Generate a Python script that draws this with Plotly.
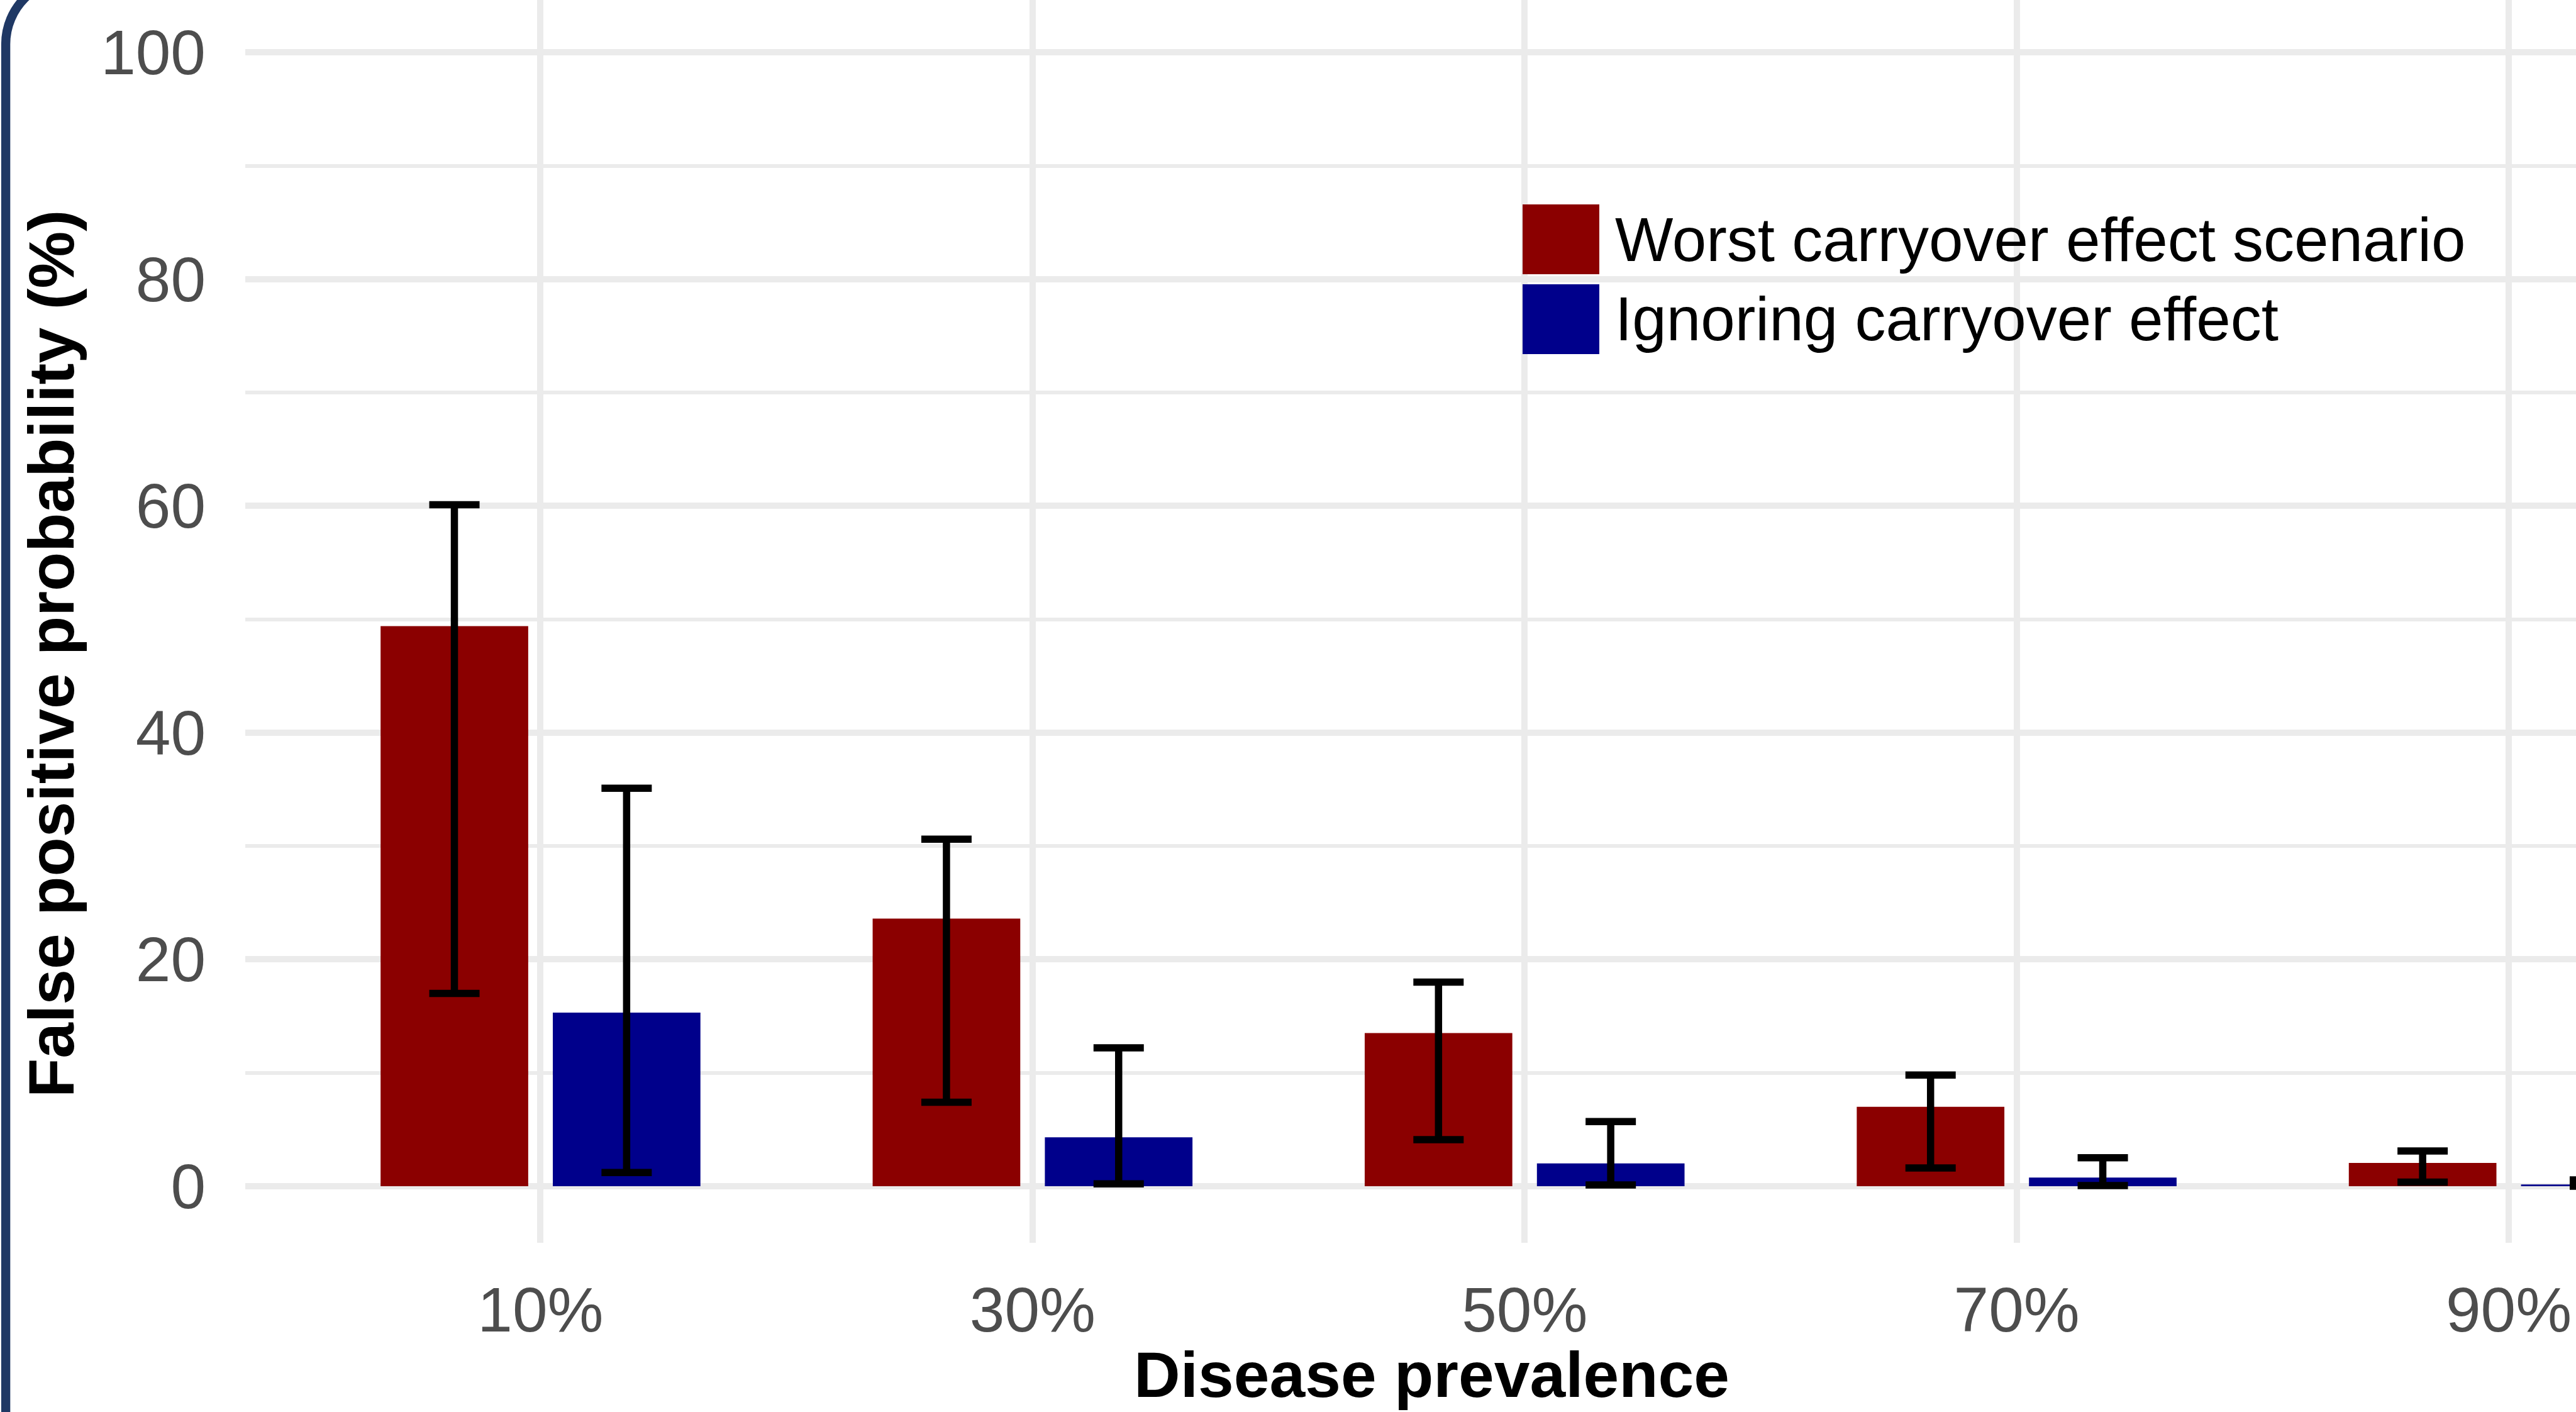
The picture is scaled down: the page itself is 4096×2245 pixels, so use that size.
import plotly.graph_objects as go

# ---------------- data ----------------
categories = ["10%", "30%", "50%", "70%", "90%"]
series_names = ["Worst carryover effect scenario", "Ignoring carryover effect"]

worst_mean = [49.4, 23.6, 13.5, 7.0, 2.05]
worst_low = [17.0, 7.4, 4.1, 1.6, 0.35]
worst_high = [60.1, 30.6, 18.0, 9.8, 3.1]

ignore_mean = [15.3, 4.3, 2.0, 0.75, 0.15]
ignore_low = [1.2, 0.2, 0.1, 0.05, 0.0]
ignore_high = [35.1, 12.2, 5.7, 2.5, 0.55]

y_ticks = [0, 20, 40, 60, 80, 100]

colors = ["#8B0000", "#00008B"]

# ---------------- layout constants (output pixels) ----------------
W, H = 4096, 2245
ML, MR, MT, MB = 390, 0, 0, 269
PW, PH = W - ML - MR, H - MT - MB
FONT = "Liberation Sans, Arial, Helvetica, sans-serif"


def px(xp):
    return (xp - ML) / PW


def py(yp):
    return (MT + PH - yp) / PH


def err_plus(m, h):
    return [b - a for a, b in zip(m, h)]


def err_minus(m, l):
    return [a - b for a, b in zip(m, l)]


fig = go.Figure()
for name, mean, lo, hi, col in [
    (series_names[0], worst_mean, worst_low, worst_high, colors[0]),
    (series_names[1], ignore_mean, ignore_low, ignore_high, colors[1]),
]:
    fig.add_trace(go.Bar(
        x=categories, y=mean, name=name,
        marker=dict(color=col, line=dict(width=0)),
        error_y=dict(type="data", symmetric=False,
                     array=err_plus(mean, hi), arrayminus=err_minus(mean, lo),
                     color="black", thickness=11.5, width=40),
        showlegend=False,
    ))

grid = "#EBEBEB"
fig.update_layout(
    width=W, height=H,
    margin=dict(l=ML, r=MR, t=MT, b=MB, pad=0),
    paper_bgcolor="white", plot_bgcolor="white",
    barmode="group", bargap=0.3, bargroupgap=1 - 0.3 / 0.35,
    font=dict(family=FONT, size=100, color="#4D4D4D"),
    xaxis=dict(
        type="category", range=[-0.6, -0.6 + PW / 782.4],
        showgrid=True, gridcolor=grid, gridwidth=10,
        zeroline=False, showline=False, ticks="",
        tickfont=dict(family=FONT, size=100, color="#4D4D4D"),
        ticklabelstandoff=40,
    ),
    yaxis=dict(
        range=[-5, 104.63], tickvals=y_ticks,
        showgrid=True, gridcolor=grid, gridwidth=10,
        minor=dict(dtick=10, tick0=0, showgrid=True, gridcolor=grid, gridwidth=5.5, ticks=""),
        zeroline=False, showline=False, ticks="",
        tickfont=dict(family=FONT, size=100, color="#4D4D4D"),
        ticklabelstandoff=62,
    ),
)

# axis titles
fig.add_annotation(text="<b>Disease prevalence</b>", xref="paper", yref="paper",
                   x=px(2276), y=py(2186), xanchor="center", yanchor="middle",
                   showarrow=False, font=dict(family=FONT, size=102, color="black"))
fig.add_annotation(text="<b>False positive probability (%)</b>", xref="paper", yref="paper",
                   x=px(82), y=py(1040), xanchor="center", yanchor="middle", textangle=-90,
                   showarrow=False, font=dict(family=FONT, size=102, color="black"))

# legend (keys + labels)
legend_rows = [(325, 436, 381), (452, 563, 507)]
for (y0, y1, yc), name, col in zip(legend_rows, series_names, colors):
    fig.add_shape(type="rect", xref="paper", yref="paper",
                  x0=px(2421), x1=px(2543), y0=py(y1), y1=py(y0),
                  fillcolor=col, line=dict(width=0), layer="above")
    fig.add_annotation(text=name, xref="paper", yref="paper",
                       x=px(2566), y=py(yc), xanchor="left", yanchor="middle",
                       showarrow=False, font=dict(family=FONT, size=98, color="black"))

# rounded navy border on the left
bx, cy, r = 9.1, 70.2, 103.6
k = 0.5523 * r
pts = [("M", [(bx, H + 20)]), ("L", [(bx, cy)]),
       ("C", [(bx, cy - k), (bx + r - k, cy - r), (bx + r, cy - r)]),
       ("L", [(W + 50, cy - r)])]
path = ""
for cmd, ps in pts:
    path += cmd + " ".join(f"{px(a):.6f},{py(b):.6f}" for a, b in ps) + " "
fig.add_shape(type="path", xref="paper", yref="paper", path=path.strip(),
              line=dict(color="#1F3864", width=14.4), fillcolor="rgba(0,0,0,0)", layer="above")

fig.write_html("out.html")
